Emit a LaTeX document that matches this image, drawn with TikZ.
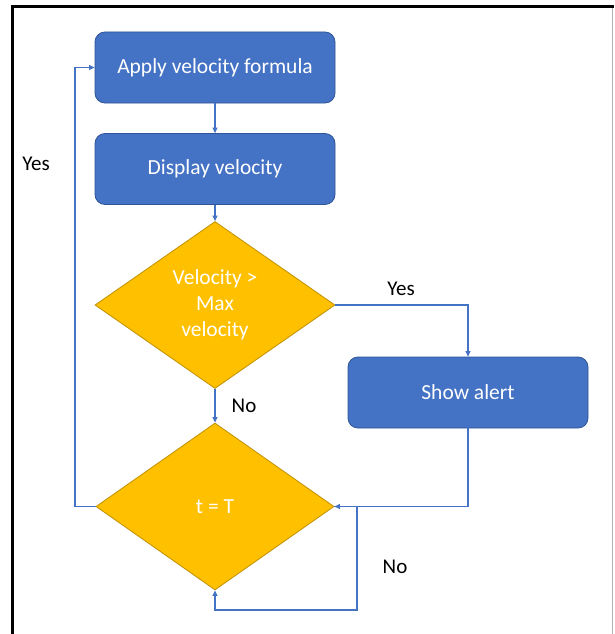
\documentclass[tikz,border=0pt]{standalone}
\usepackage{fontspec}
\setmainfont{Carlito}
\usetikzlibrary{shapes.geometric,arrows.meta}
\definecolor{obox}{HTML}{4472C4}
\definecolor{oboxline}{HTML}{2F5597}
\definecolor{ogold}{HTML}{FFC000}
\definecolor{ogoldline}{HTML}{BF9000}
\tikzset{
  x=1pt,y=-1pt,
  procbox/.style={draw=oboxline,line width=0.8pt,fill=obox,rounded corners=10pt,
    minimum width=240pt,minimum height=71pt,inner sep=0pt,text=white,
    font=\fontsize{21.5}{26}\selectfont},
  decbox/.style={diamond,draw=ogoldline,line width=0.8pt,fill=ogold,
    minimum width=240pt,minimum height=167pt,inner sep=0pt,text=white,
    align=center,font=\fontsize{21.5}{26}\selectfont},
  arr/.style={draw=obox,line width=1.1pt,-{Triangle[length=5.5pt,width=5pt]}},
  lbl/.style={font=\fontsize{21}{24}\selectfont,text=black,inner sep=0pt}
}
\begin{document}
\begin{tikzpicture}
\useasboundingbox (0,0) rectangle (614,634);
\fill[white] (0,0) rectangle (614,634);
% frame
\draw[line width=3pt,black] (12,634) -- (12,7) -- (614,7);
\draw[line width=0.6pt,gray!60] (612.5,8) -- (612.5,634);
% nodes
\node[procbox] (b1) at (215,67.5) {Apply velocity formula};
\node[procbox] (b2) at (215,169) {Display velocity};
\node[decbox] (d1) at (215,305) {Velocity >\\Max\\velocity};
\node[procbox] (b3) at (468,392.5) {Show alert};
\node[decbox,minimum width=238pt] (d2) at (215,506.5) {t = T};
% labels
\node[lbl] (y1) at (36,164) {Yes};
\node[lbl] (y2) at (401,289) {Yes};
\node[lbl] (n1) at (244,406) {No};
\node[lbl] (n2) at (395,567) {No};
% connectors
\coordinate (lft) at (75,506.5);
\coordinate (lp) at (357,610);
\draw[arr] (b1) -- (b2);
\draw[arr] (b2) -- (d1);
\draw[arr] (d1.east) -| (b3.north);
\draw[arr] (d1) -- (d2);
\draw[arr] (b3.south) |- (d2.east);
\draw[arr] (d2.west) -- (lft) |- (b1.west);
\draw[arr] (d2.east) -| (lp) -| (d2.south);
\end{tikzpicture}
\end{document}
